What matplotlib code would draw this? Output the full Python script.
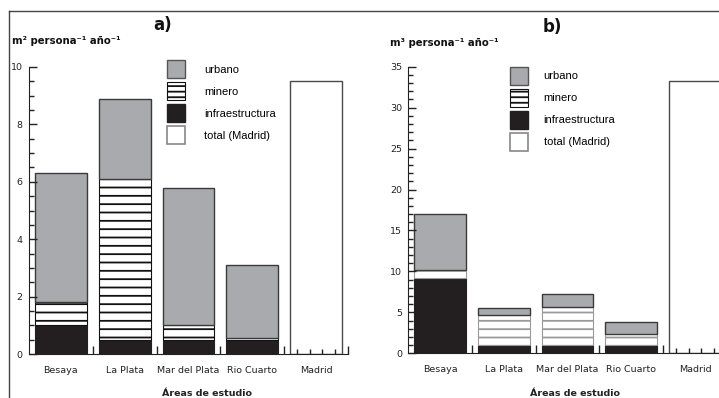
import numpy as np
import matplotlib
matplotlib.use("Agg")
import matplotlib.pyplot as plt
from matplotlib.patches import Patch
from matplotlib.lines import Line2D

# data
sites = ["Besaya", "La Plata", "Mar del Plata", "Rio Cuarto", "Madrid"]

# a) m2 persona-1 año-1 (height of each stacked segment)
a_infra = [1.0, 0.5, 0.5, 0.5]
a_minero = [0.8, 5.6, 0.5, 0.05]
a_urbano = [4.5, 2.8, 4.8, 2.55]
a_madrid = 9.5

# b) m3 persona-1 año-1
b_infra = [9.2, 1.0, 1.0, 1.0]
b_minero = [1.0, 3.7, 4.6, 1.4]
b_urbano = [6.8, 0.8, 1.6, 1.4]
b_madrid = 33.2

legend_labels = ["urbano", "minero", "infraestructura", "total (Madrid)"]

GRAY = "#a9aaae"
BLACK = "#231f20"

plt.rcParams['hatch.linewidth'] = 1.3

fig = plt.figure(figsize=(7.19, 3.98), dpi=100)

W, H = 719.0, 398.0
axA = fig.add_axes([29 / W, 1 - 354 / H, 319 / W, 287 / H])
axB = fig.add_axes([408.3 / W, 1 - 353.3 / H, 318.5 / W, 286.6 / H])


def draw_panel(ax, infra, minero, urbano, madrid, ymax, major, minor, hatch_col):
    x = np.arange(len(infra))
    w = 0.81
    infra = np.array(infra)
    minero = np.array(minero)
    urbano = np.array(urbano)
    ax.bar(x, infra, w, color=BLACK, edgecolor=BLACK, linewidth=0.8)
    ax.bar(x, minero, w, bottom=infra, color="white", edgecolor=hatch_col,
           hatch="--", linewidth=0.8)
    ax.bar(x, urbano, w, bottom=infra + minero, color=GRAY, edgecolor="#3a3a3a",
           linewidth=1.0)
    ax.bar([len(infra)], [madrid], w, color="white", edgecolor="#4a4a4a",
           linewidth=1.0)

    ax.set_xlim(-0.5, 4.5)
    ax.set_ylim(0, ymax)
    ax.spines['top'].set_visible(False)
    ax.spines['right'].set_visible(False)
    ax.spines['left'].set_color("#222222")
    ax.spines['bottom'].set_color("#222222")

    ax.set_yticks(np.arange(0, ymax + 0.01, major))
    ax.set_yticks(np.arange(0, ymax + 0.01, minor), minor=True)
    ax.tick_params(axis='y', which='major', direction='in', length=6, width=1,
                   pad=4.5, labelsize=6.8, colors="#222222")
    ax.tick_params(axis='y', which='minor', direction='in', length=3.5, width=1,
                   colors="#222222")

    ax.set_xticks([0.5, 1.5, 2.5, 3.5, 4.5])
    ax.set_xticks([3.7, 3.9, 4.1, 4.3], minor=True)
    ax.set_xticklabels([])
    ax.tick_params(axis='x', which='major', direction='in', length=6, width=1,
                   colors="#222222")
    ax.tick_params(axis='x', which='minor', direction='in', length=3.5, width=1,
                   colors="#222222")
    for i, s in enumerate(sites):
        ax.text(i, -0.058, s, transform=ax.get_xaxis_transform(), ha='center',
                va='center', fontsize=6.8, color="#222222")


draw_panel(axA, a_infra, a_minero, a_urbano, a_madrid, 10, 2, 0.5, "#111111")
draw_panel(axB, b_infra, b_minero, b_urbano, b_madrid, 35, 5, 1, "#9a9a9a")

axA.set_xlabel("Áreas de estudio", fontsize=6.8, fontweight='bold', color="#222222")
axA.xaxis.set_label_coords(0.558, -0.139)
axA.xaxis.label.set_va('center')
axB.set_xlabel("Áreas de estudio", fontsize=6.8, fontweight='bold', color="#222222")
axB.xaxis.set_label_coords(0.523, -0.14)
axB.xaxis.label.set_va('center')

# legends
for ax, pos, tpad in [(axA, (166.5 / W, 1 - 60 / H), 1.75),
                      (axB, (510 / W, 1 - 66.5 / H), 1.4)]:
    handles = [Patch(facecolor=GRAY, edgecolor="#555555", linewidth=1.0),
               Patch(facecolor="white", edgecolor="#111111", hatch="---", linewidth=0.8),
               Patch(facecolor=BLACK, edgecolor=BLACK),
               Patch(facecolor="white", edgecolor="#888888", linewidth=1.2)]
    ax.legend(handles, legend_labels, loc='upper left', bbox_to_anchor=pos,
              bbox_transform=fig.transFigure, frameon=False, borderpad=0,
              borderaxespad=0, handlelength=1.62, handleheight=2.12,
              labelspacing=0.37, handletextpad=tpad,
              prop={'family': 'Liberation Sans', 'size': 8})

# titles and units
fig.text(153 / W, 1 - 25 / H, "a)", fontsize=12, fontweight='bold', va='center',
         ha='left', color="#111111")
fig.text(543 / W, 1 - 27 / H, "b)", fontsize=12, fontweight='bold', va='center',
         ha='left', color="#111111")
fig.text(12 / W, 1 - 41 / H, "m² persona⁻¹ año⁻¹", fontsize=7.3, fontweight='bold',
         va='center', ha='left', color="#111111")
fig.text(390 / W, 1 - 43 / H, "m³ persona⁻¹ año⁻¹", fontsize=7.3, fontweight='bold',
         va='center', ha='left', color="#111111")

# frame lines of the original figure
fig.add_artist(Line2D([9 / W, 1], [1 - 10.5 / H, 1 - 10.5 / H], color="#444444", lw=1))
fig.add_artist(Line2D([9 / W, 9 / W], [0, 1 - 10.5 / H], color="#444444", lw=1))

fig.savefig("out.png", dpi=100)
